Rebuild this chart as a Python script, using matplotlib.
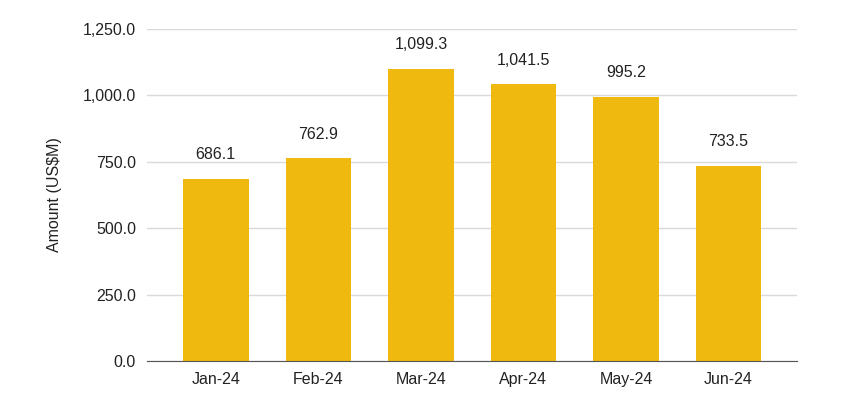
import matplotlib.pyplot as plt
from matplotlib.ticker import FuncFormatter

plt.rcParams['font.family'] = ['Liberation Sans', 'DejaVu Sans']

months = ["Jan-24", "Feb-24", "Mar-24", "Apr-24", "May-24", "Jun-24"]
amounts = [686.1, 762.9, 1099.3, 1041.5, 995.2, 733.5]

fig = plt.figure(figsize=(8.5, 4.07), dpi=100)
ax = fig.add_axes([0.173, 0.113, 0.765, 0.816])

x = list(range(len(months)))
bars = ax.bar(x, amounts, width=0.64, color="#EFB90F", zorder=3)

for xi, v in zip(x, amounts):
    ax.annotate("{:,.1f}".format(v), (xi, v), xytext=(0, 12),
                textcoords="offset points", ha="center", va="bottom",
                fontsize=11.5, color="#222222")

ax.set_xlim(-0.67, 5.67)
ax.set_ylim(0, 1250)
ax.set_yticks([0, 250, 500, 750, 1000, 1250])
ax.yaxis.set_major_formatter(FuncFormatter(lambda v, p: "{:,.1f}".format(v)))
ax.set_xticks(x)
ax.set_xticklabels(months)
ax.tick_params(axis="both", length=0, labelsize=11.5, colors="#222222")
ax.tick_params(axis="y", pad=8)
ax.tick_params(axis="x", pad=8)

ax.grid(axis="y", color="#d9d9d9", linewidth=1, zorder=0)
for s in ["top", "right", "left"]:
    ax.spines[s].set_visible(False)
ax.spines["bottom"].set_color("#555555")
ax.spines["bottom"].set_zorder(4)

ax.set_ylabel("Amount (US\\$M)", fontsize=11.5, color="#222222", labelpad=15)

fig.savefig("out.png", dpi=100)
